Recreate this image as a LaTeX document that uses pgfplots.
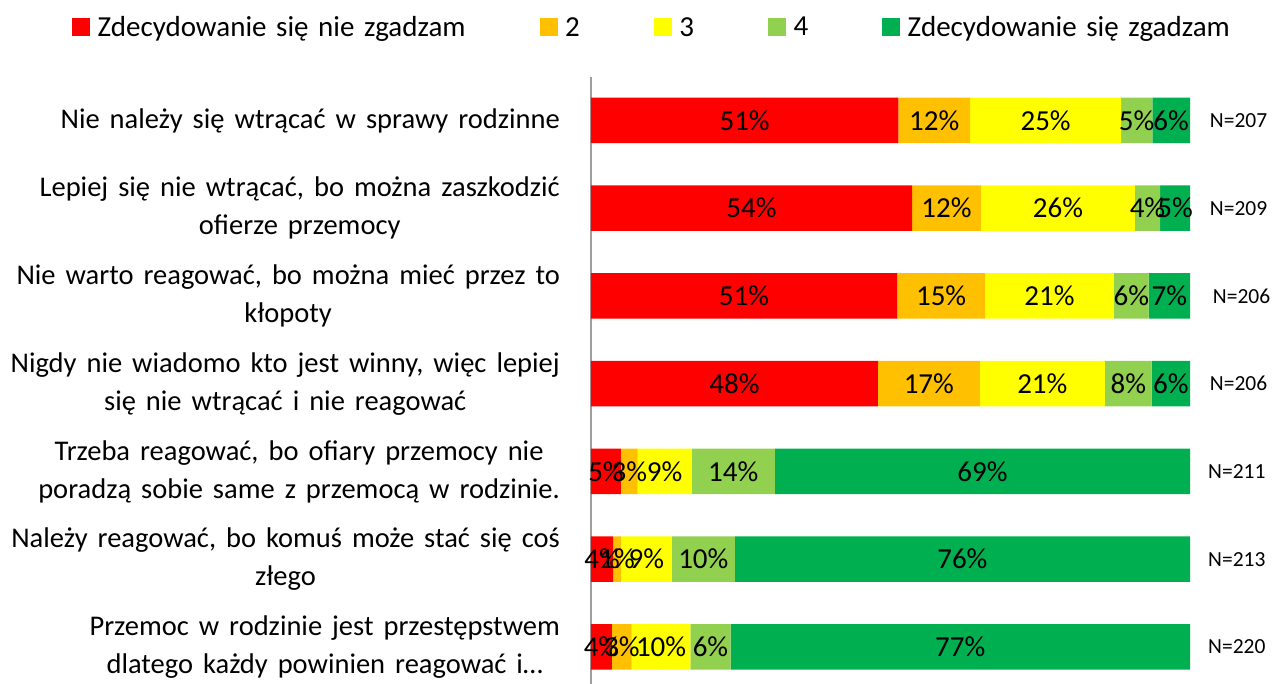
\documentclass[border=0pt]{standalone}
\usepackage{fontspec}
\setmainfont{Carlito}
\usepackage{pgfplots}
\pgfplotsset{compat=1.18}
\usepackage{pgfplotstable}
\pgfplotsset{/pgf/number format/assume math mode=true}

\definecolor{cred}{HTML}{FF0000}
\definecolor{corange}{HTML}{FFC000}
\definecolor{cyellow}{HTML}{FFFF00}
\definecolor{clgreen}{HTML}{92D050}
\definecolor{cgreen}{HTML}{00B050}

\newcommand\catfont{\fontsize{28.5}{38}\selectfont\spaceskip=10pt plus 1pt minus 1pt\relax}
\newcommand\legfont{\fontsize{29}{34}\selectfont\spaceskip=9.6pt plus 1pt minus 1pt\relax}
\newcommand\barfont{\fontsize{29}{34}\selectfont}
\newcommand\nfont{\fontsize{21.5}{26}\selectfont}

\pgfplotstableread{
y a b c d e
7 51.3 12.0 25.2 5.2 6.3
6 53.6 11.5 25.7 4.2 5.0
5 51.1 14.7 21.5 5.8 6.9
4 47.9 17.0 20.9 7.8 6.4
3 5.0 2.8 9.0 13.9 69.3
2 3.7 1.3 8.5 10.5 76.0
1 3.5 3.3 9.8 6.7 76.7
}\datatable

\pgfplotstableread{
x y v
25.65 7 51
57.3 7 12
75.9 7 25
91.1 7 5
96.85 7 6
26.8 6 54
59.35 6 12
77.95 6 26
92.9 6 4
97.5 6 5
25.55 5 51
58.45 5 15
76.55 5 21
90.2 5 6
96.55 5 7
23.95 4 48
56.4 4 17
75.35 4 21
89.7 4 8
96.8 4 6
2.5 3 5
6.4 3 3
12.3 3 9
23.75 3 14
65.35 3 69
1.85 2 4
4.35 2 1
9.25 2 9
18.75 2 10
62.0 2 76
1.75 1 4
5.15 1 3
11.7 1 10
19.95 1 6
61.65 1 77
}\labtable

\pgfplotstableread{
x y n
103.3 7 207
103.3 6 209
103.8 5 206
103.3 4 206
103.0 3 211
103.0 2 213
103.0 1 220
}\ntable

\begin{document}
\begin{tikzpicture}
\useasboundingbox (0,0) rectangle (1275pt,-684pt);
\begin{axis}[
  at={(591pt,-684pt)}, anchor=south west,
  scale only axis, width=599pt, height=607.4pt,
  xbar stacked, bar width=45.5pt,
  xmin=0, xmax=100, ymin=0.578, ymax=7.5,
  axis x line=none, axis y line*=left,
  y axis line style={draw=gray!75, line width=1.5pt, -},
  ytick={1,2,3,4,5,6,7},
  yticklabels={
    {Przemoc w rodzinie jest przestępstwem\\dlatego każdy powinien reagować i…},
    {Należy reagować, bo komuś może stać się coś\\złego},
    {Trzeba reagować, bo ofiary przemocy nie\\poradzą sobie same z przemocą w rodzinie.},
    {Nigdy nie wiadomo kto jest winny, więc lepiej\\się nie wtrącać i nie reagować},
    {Nie warto reagować, bo można mieć przez to\\kłopoty},
    {Lepiej się nie wtrącać, bo można zaszkodzić\\ofierze przemocy},
    {Nie należy się wtrącać w sprawy rodzinne}},
  major tick length=0pt,
  yticklabel style={align=center, font=\catfont, inner sep=0pt, anchor=east, xshift=-31pt},
  legend columns=5,
  legend image code/.code={\fill[#1] (0pt,-9pt) rectangle (18pt,9pt);},
  legend style={draw=none, fill=none, font=\legfont, inner sep=0pt, outer sep=0pt,
    at={(-0.8664,1.081)}, anchor=west,
    /tikz/every odd column/.append style={column sep=7.5pt},
    /tikz/every even column/.append style={column sep=74pt},
    nodes={inner sep=0pt}},
  clip=false,
]
\addplot[fill=cred, draw=none] table[x=a, y=y] {\datatable};
\addplot[fill=corange, draw=none] table[x=b, y=y] {\datatable};
\addplot[fill=cyellow, draw=none] table[x=c, y=y] {\datatable};
\addplot[fill=clgreen, draw=none] table[x=d, y=y] {\datatable};
\addplot[fill=cgreen, draw=none] table[x=e, y=y] {\datatable};
\legend{Zdecydowanie się nie zgadzam, 2, 3, 4, Zdecydowanie się zgadzam}
\end{axis}
\begin{axis}[
  at={(591pt,-684pt)}, anchor=south west,
  scale only axis, width=599pt, height=607.4pt,
  xmin=0, xmax=100, ymin=0.578, ymax=7.5,
  hide axis, clip=false,
]
\addplot[draw=none, mark=none, point meta=explicit,
  nodes near coords={\pgfmathprintnumber{\pgfplotspointmeta}\%},
  every node near coord/.append style={anchor=center, font=\barfont, text=black, inner sep=0pt}]
  table[x=x, y=y, meta=v] {\labtable};
\addplot[draw=none, mark=none, point meta=explicit,
  nodes near coords={N=\pgfmathprintnumber{\pgfplotspointmeta}},
  every node near coord/.append style={anchor=west, font=\nfont, text=black, inner sep=0pt}]
  table[x=x, y=y, meta=n] {\ntable};
\end{axis}
\end{tikzpicture}
\end{document}
